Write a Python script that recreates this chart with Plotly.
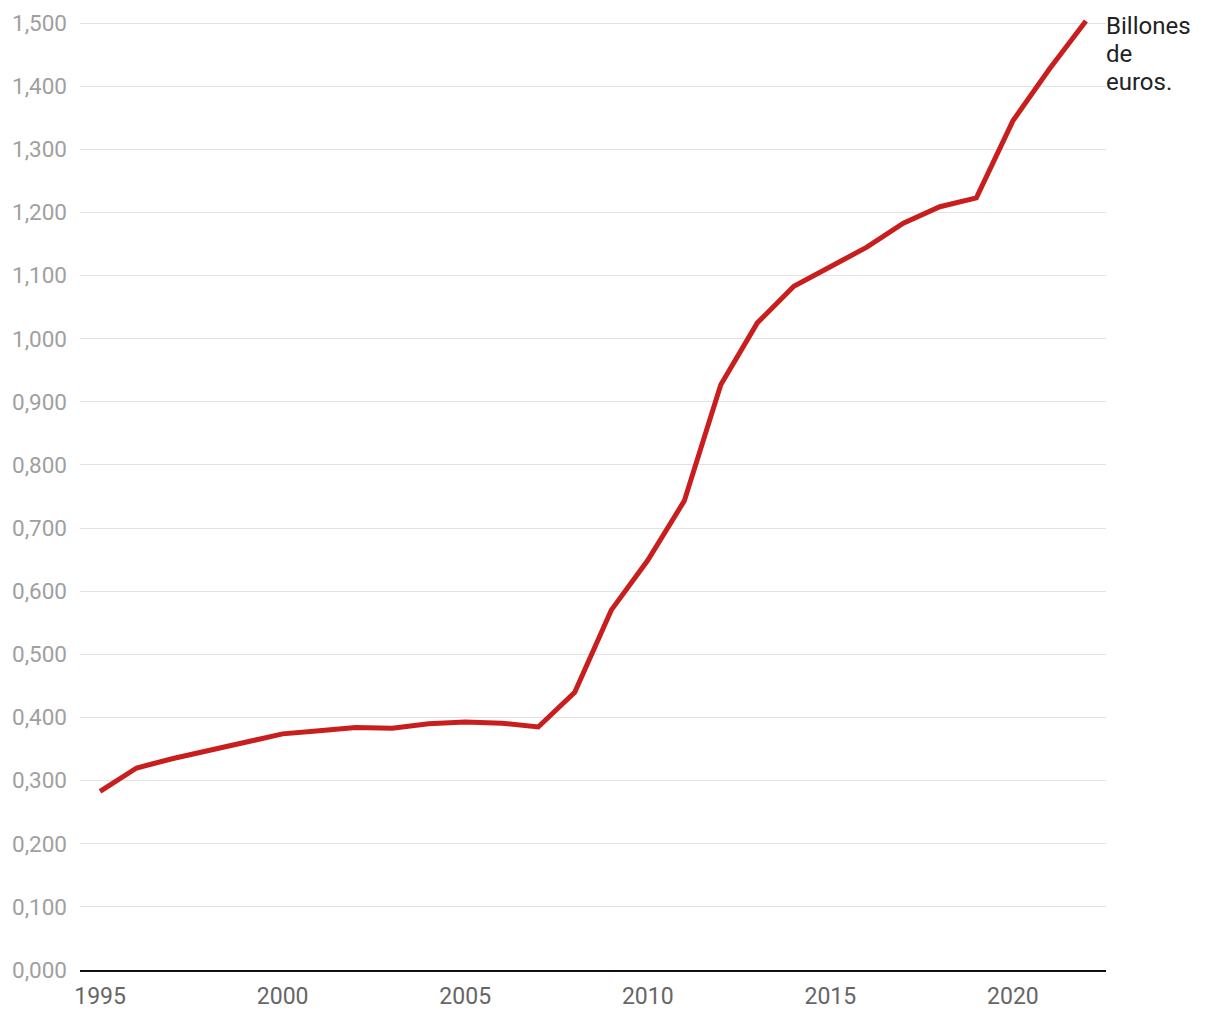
import plotly.graph_objects as go

years = list(range(1995, 2023))
values = [0.283, 0.320, 0.335, 0.348, 0.363, 0.374, 0.379, 0.384, 0.383, 0.390,
          0.393, 0.391, 0.385, 0.440, 0.570, 0.649, 0.743, 0.927, 1.025, 1.083,
          1.114, 1.145, 1.183, 1.209, 1.223, 1.345, 1.427, 1.503]
y_ticks = [i / 10 for i in range(0, 16)]
x_ticks = [1995, 2000, 2005, 2010, 2015, 2020]
unit_lines = ["Billones", "de", "euros."]

fig = go.Figure()
fig.add_trace(go.Scatter(
    x=years, y=values, mode="lines",
    line=dict(color="#c81e1e", width=5),
    hoverinfo="skip", showlegend=False,
))

for i, txt in enumerate(unit_lines):
    fig.add_annotation(
        x=1, xref="paper", xanchor="left",
        y=1.5, yref="y", yanchor="middle", yshift=-3 - 28 * i,
        text=txt, showarrow=False, align="left",
        font=dict(family="Roboto", size=24, color="#222222"),
        xshift=-2,
    )

fig.update_layout(
    width=1220, height=1020,
    margin=dict(l=80, r=114, t=10, b=50),
    paper_bgcolor="white", plot_bgcolor="white",
    separators=",.",
    font=dict(family="Roboto", size=22),
    xaxis=dict(
        range=[1994.45, 2022.55], tickvals=x_ticks,
        showgrid=False, zeroline=False,
        showline=True, linecolor="#111111", linewidth=2,
        ticks="", ticklabelstandoff=4,
        tickfont=dict(color="#666666", size=23),
    ),
    yaxis=dict(
        range=[0, 1.5206], tickvals=y_ticks, tickformat=".3f",
        showgrid=True, gridcolor="#e2e2e2", gridwidth=1,
        zeroline=False, showline=False,
        ticks="", ticklabelstandoff=12,
        tickfont=dict(color="#a0a0a0", size=22.5),
    ),
)

fig.write_html("out.html")
